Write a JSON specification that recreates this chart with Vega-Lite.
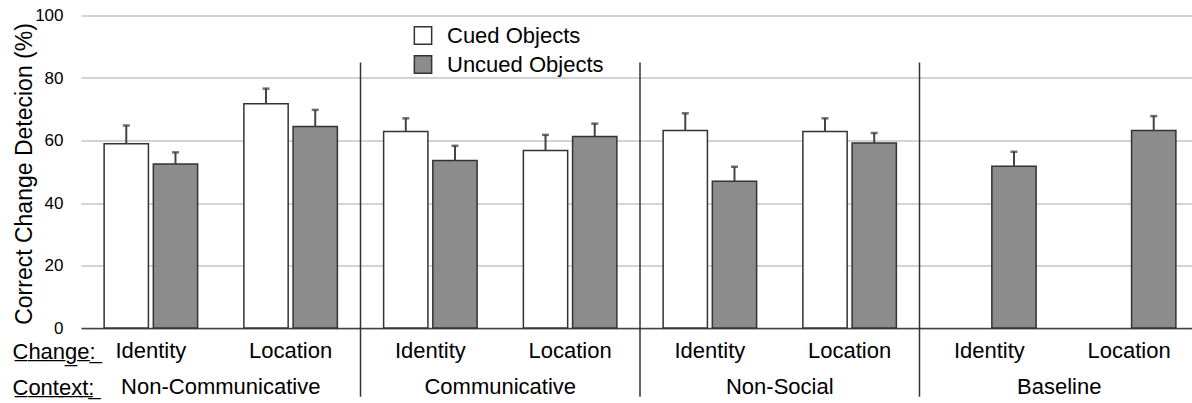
{
  "$schema": "https://vega.github.io/schema/vega-lite/v6.json",
  "width": 1111,
  "height": 312.5,
  "autosize": {"type": "none"},
  "padding": {"left": 81, "top": 15.5, "right": 0, "bottom": 75},
  "config": {"view": {"stroke": null}, "font": "Liberation Sans"},
  "resolve": {"scale": {"x": "independent"}, "axis": {"x": "independent"}},
  "layer": [
    {
      "data": {"values": [
        {"group": "Non-Communicative|Identity", "cue": "Cued Objects", "value": 59.0, "upper": 64.8},
        {"group": "Non-Communicative|Identity", "cue": "Uncued Objects", "value": 52.5, "upper": 56.2},
        {"group": "Non-Communicative|Location", "cue": "Cued Objects", "value": 71.8, "upper": 76.6},
        {"group": "Non-Communicative|Location", "cue": "Uncued Objects", "value": 64.5, "upper": 69.8},
        {"group": "Communicative|Identity", "cue": "Cued Objects", "value": 62.9, "upper": 67.1},
        {"group": "Communicative|Identity", "cue": "Uncued Objects", "value": 53.6, "upper": 58.3},
        {"group": "Communicative|Location", "cue": "Cued Objects", "value": 56.8, "upper": 61.8},
        {"group": "Communicative|Location", "cue": "Uncued Objects", "value": 61.3, "upper": 65.4},
        {"group": "Non-Social|Identity", "cue": "Cued Objects", "value": 63.2, "upper": 68.7},
        {"group": "Non-Social|Identity", "cue": "Uncued Objects", "value": 47.0, "upper": 51.6},
        {"group": "Non-Social|Location", "cue": "Cued Objects", "value": 62.9, "upper": 67.1},
        {"group": "Non-Social|Location", "cue": "Uncued Objects", "value": 59.2, "upper": 62.4},
        {"group": "Baseline|Identity", "cue": "Uncued Objects", "value": 51.8, "upper": 56.4},
        {"group": "Baseline|Location", "cue": "Uncued Objects", "value": 63.2, "upper": 67.8}
      ]},
      "encoding": {
        "x": {
          "field": "group", "type": "nominal", "sort": null,
          "scale": {
            "domain": ["Non-Communicative|Identity", "Non-Communicative|Location", "Communicative|Identity", "Communicative|Location", "Non-Social|Identity", "Non-Social|Location", "Baseline|Identity", "Baseline|Location"],
            "range": [0, 1118], "paddingInner": 0, "paddingOuter": 0
          },
          "axis": {
            "title": "C\u0332h\u0332a\u0332n\u0332g\u0332e\u0332:\u0332",
            "labelExpr": "split(datum.label, '|')[1]",
            "labelAngle": 0, "labelFontSize": 22, "labelColor": "#000", "labelPadding": 12, "labelLimit": 0,
            "ticks": false, "domainColor": "#444", "domainWidth": 1.6,
            "titleFontSize": 22, "titleFontWeight": "normal", "titleColor": "#000",
            "titleAlign": "left", "titleBaseline": "alphabetic", "titleX": -69, "titleY": 30
          }
        },
        "xOffset": {
          "field": "cue", "type": "nominal",
          "scale": {"domain": ["Cued Objects", "Uncued Objects"], "paddingInner": 0.1, "paddingOuter": 0.47}
        },
        "y": {
          "field": "value", "type": "quantitative",
          "scale": {"domain": [0, 100], "nice": false},
          "axis": {
            "title": "Correct Change Detecion (%)",
            "values": [0, 20, 40, 60, 80, 100],
            "ticks": false, "domain": false,
            "labelFontSize": 17, "labelColor": "#000", "labelPadding": 18,
            "gridColor": "#c4c4c4", "gridWidth": 1.3,
            "titleFontSize": 23, "titleFontWeight": "normal", "titleColor": "#000",
            "titleX": -57, "titleY": 158, "titleAngle": -90, "titleBaseline": "middle", "titleAlign": "center"
          }
        }
      },
      "layer": [
        {
          "mark": {"type": "bar", "stroke": "#333", "strokeWidth": 1.5},
          "encoding": {
            "color": {
              "field": "cue", "type": "nominal",
              "scale": {"domain": ["Cued Objects", "Uncued Objects"], "range": ["#ffffff", "#8c8c8c"]},
              "legend": {
                "title": null, "orient": "none", "legendX": 331, "legendY": 9,
                "symbolType": "square", "symbolSize": 300, "symbolStrokeColor": "#333", "symbolStrokeWidth": 1.5,
                "symbolOpacity": 1,
                "labelFontSize": 22, "labelColor": "#000", "labelOffset": 13, "rowPadding": 5, "labelLimit": 0
              }
            }
          }
        },
        {
          "mark": {"type": "rule", "color": "#444", "strokeWidth": 2},
          "encoding": {"y2": {"field": "upper"}}
        },
        {
          "mark": {"type": "tick", "color": "#333", "thickness": 2.5, "size": 7},
          "encoding": {"y": {"field": "upper", "type": "quantitative"}}
        }
      ]
    },
    {
      "data": {"values": [{"context": "Communicative"}, {"context": "Non-Social"}, {"context": "Baseline"}]},
      "mark": {"type": "rule", "color": "#333", "strokeWidth": 1.5},
      "encoding": {
        "x": {
          "field": "context", "type": "nominal", "bandPosition": 0,
          "scale": {"domain": ["Non-Communicative", "Communicative", "Non-Social", "Baseline"], "range": [0, 1118], "paddingInner": 0, "paddingOuter": 0},
          "axis": {
            "orient": "bottom", "offset": 36, "bandPosition": 0.5,
            "title": "C\u0332o\u0332n\u0332t\u0332e\u0332x\u0332t\u0332:\u0332",
            "labelAngle": 0, "labelFontSize": 22, "labelColor": "#000", "labelPadding": 12, "labelLimit": 0,
            "ticks": false, "domain": false, "grid": false,
            "titleFontSize": 22, "titleFontWeight": "normal", "titleColor": "#000",
            "titleAlign": "left", "titleBaseline": "alphabetic", "titleX": -69, "titleY": 30
          }
        },
        "y": {"datum": 85, "type": "quantitative"},
        "y2": {"datum": -22}
      }
    }
  ]
}
